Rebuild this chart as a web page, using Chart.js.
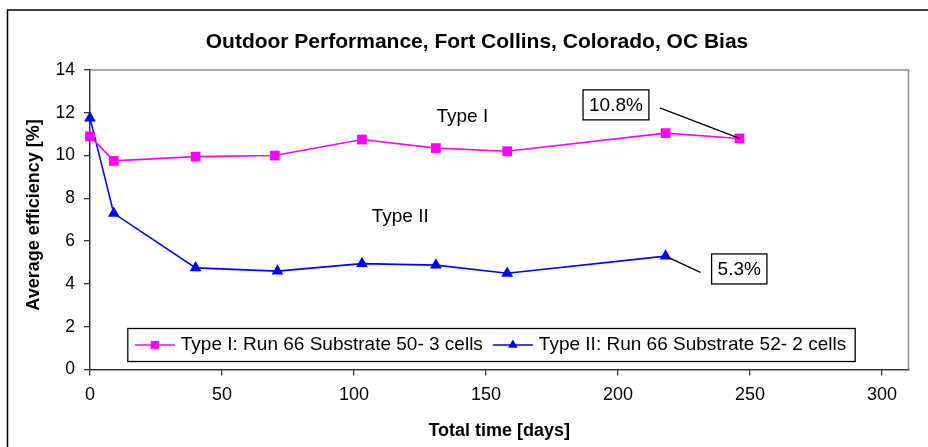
<!DOCTYPE html>
<html>
<head>
<meta charset="utf-8">
<script src="https://cdn.jsdelivr.net/npm/chart.js@4.4.0/dist/chart.umd.min.js"></script>
<style>
  html, body { margin: 0; padding: 0; background: #ffffff; }
  #wrap { width: 928px; height: 447px; position: relative; }
</style>
</head>
<body>
<div id="wrap"><canvas id="c" width="928" height="447"></canvas></div>
<script>
// Outdoor efficiency over time, two cell types
const typeIDays   = [0, 9, 40, 70, 103, 131, 158, 218, 246];
const typeIEff    = [10.9, 9.75, 9.95, 10.0, 10.75, 10.35, 10.2, 11.05, 10.8];
const typeIIDays  = [0, 9, 40, 71, 103, 131, 158, 218];
const typeIIEff   = [11.75, 7.3, 4.75, 4.6, 4.95, 4.88, 4.5, 5.3];

const seriesNames = ['Type I: Run 66 Substrate 50- 3 cells', 'Type II: Run 66 Substrate 52- 2 cells'];
const chartTitle  = 'Outdoor Performance, Fort Collins, Colorado, OC Bias';
const xTitle      = 'Total time [days]';
const yTitle      = 'Average efficiency [%]';
const xRange      = [0, 310];
const xStep       = 50;
const yRange      = [0, 14];
const yStep       = 2;

// Free text labels placed in data units
const typeLabels = [
  { text: 'Type I',  day: 141, eff: 11.8 },
  { text: 'Type II', day: 117.5, eff: 7.15 }
];

const FONT = '"Liberation Sans", Arial, Helvetica, sans-serif';
const MAGENTA = '#ff00ff';
const BLUE = '#0000ff';

const toPoints = (xs, ys) => xs.map((x, i) => ({ x: x, y: ys[i] }));

// Callouts for the final value of each series
const lastI  = typeIEff.length - 1;
const lastII = typeIIEff.length - 1;
const callouts = [
  { text: typeIEff[lastI].toFixed(1) + '%',
    box: { day: 199.2, eff: 12.37 },
    from: { day: 215.8, eff: 12.23 },
    to: { day: typeIDays[lastI], eff: typeIEff[lastI] } },
  { text: typeIIEff[lastII].toFixed(1) + '%',
    box: { day: 245.9, eff: 4.70 },
    from: { day: typeIIDays[lastII], eff: typeIIEff[lastII] },
    to: { day: 231.2, eff: 4.54 } }
];

function drawMarker(ctx, style, x, y, r, color) {
  ctx.save();
  ctx.fillStyle = color;
  ctx.beginPath();
  if (style === 'rect') {
    const s = r * Math.SQRT1_2;
    ctx.rect(x - s, y - s, 2 * s, 2 * s);
  } else {
    ctx.moveTo(x, y - r);
    ctx.lineTo(x + r * Math.sin(2 * Math.PI / 3), y + r * 0.5);
    ctx.lineTo(x - r * Math.sin(2 * Math.PI / 3), y + r * 0.5);
    ctx.closePath();
  }
  ctx.fill();
  ctx.restore();
}

const decorations = {
  id: 'decorations',
  beforeDraw(chart) {
    const ctx = chart.ctx;
    ctx.save();
    ctx.fillStyle = '#ffffff';
    ctx.fillRect(0, 0, chart.width, chart.height);
    ctx.restore();
  },
  afterDatasetsDraw(chart) {
    const ctx = chart.ctx;
    const xs = chart.scales.x, ys = chart.scales.y;
    const a = chart.chartArea;

    ctx.save();
    // outer frame
    ctx.strokeStyle = '#000000';
    ctx.lineWidth = 1.5;
    ctx.strokeRect(7.5, 10, 1200, 1200);

    // plot frame, top and right
    ctx.strokeStyle = '#8c8c8c';
    ctx.lineWidth = 1.5;
    ctx.beginPath();
    ctx.moveTo(a.left, a.top);
    ctx.lineTo(a.right, a.top);
    ctx.lineTo(a.right, a.bottom);
    ctx.stroke();

    // title
    ctx.fillStyle = '#000000';
    ctx.textAlign = 'center';
    ctx.textBaseline = 'middle';
    ctx.font = 'bold 21px ' + FONT;
    ctx.fillText(chartTitle, 477, 42.5);

    // axis titles
    ctx.font = 'bold 18px ' + FONT;
    ctx.fillText(xTitle, (a.left + a.right) / 2, 431);
    ctx.save();
    ctx.translate(34, 215);
    ctx.rotate(-Math.PI / 2);
    ctx.fillText(yTitle, 0, 0);
    ctx.restore();

    // type labels
    ctx.font = '19px ' + FONT;
    typeLabels.forEach(l => {
      ctx.fillText(l.text, xs.getPixelForValue(l.day), ys.getPixelForValue(l.eff));
    });

    // callouts with leader lines
    callouts.forEach(c => {
      ctx.strokeStyle = '#000000';
      ctx.lineWidth = 1.3;
      ctx.beginPath();
      ctx.moveTo(xs.getPixelForValue(c.from.day), ys.getPixelForValue(c.from.eff));
      ctx.lineTo(xs.getPixelForValue(c.to.day), ys.getPixelForValue(c.to.eff));
      ctx.stroke();
      ctx.font = '19px ' + FONT;
      const w = ctx.measureText(c.text).width + 12;
      const h = 30;
      const cx = xs.getPixelForValue(c.box.day), cy = ys.getPixelForValue(c.box.eff);
      ctx.fillStyle = '#ffffff';
      ctx.fillRect(cx - w / 2, cy - h / 2, w, h);
      ctx.strokeStyle = '#000000';
      ctx.lineWidth = 1.3;
      ctx.strokeRect(cx - w / 2, cy - h / 2, w, h);
      ctx.fillStyle = '#000000';
      ctx.fillText(c.text, cx, cy + 1);
    });

    // legend
    const ds = chart.data.datasets;
    ctx.font = '19px ' + FONT;
    const lineLen = 40, gapText = 6, gapItem = 10, padL = 7, padR = 9;
    let width = padL;
    ds.forEach((d, i) => {
      width += lineLen + gapText + ctx.measureText(d.label).width;
      if (i < ds.length - 1) width += gapItem;
    });
    width += padR;
    const lcx = 491.5, ltop = 328.5, lh = 33;
    const left = lcx - width / 2;
    ctx.fillStyle = '#ffffff';
    ctx.fillRect(left, ltop, width, lh);
    ctx.strokeStyle = '#000000';
    ctx.lineWidth = 1.3;
    ctx.strokeRect(left, ltop, width, lh);
    const my = ltop + lh / 2;
    let x = left + padL;
    ds.forEach((d, i) => {
      ctx.strokeStyle = d.borderColor;
      ctx.lineWidth = 1.5;
      ctx.beginPath();
      ctx.moveTo(x, my);
      ctx.lineTo(x + lineLen, my);
      ctx.stroke();
      drawMarker(ctx, d.pointStyle, x + lineLen / 2, my, d.pointStyle === 'rect' ? 5.8 : 5.6, d.borderColor);
      x += lineLen + gapText;
      ctx.fillStyle = '#000000';
      ctx.textAlign = 'left';
      ctx.fillText(d.label, x, my);
      x += ctx.measureText(d.label).width + gapItem;
    });
    ctx.restore();
  }
};

new Chart(document.getElementById('c'), {
  type: 'line',
  data: {
    datasets: [
      {
        label: seriesNames[0],
        data: toPoints(typeIDays, typeIEff),
        borderColor: MAGENTA,
        backgroundColor: MAGENTA,
        borderWidth: 1.6,
        pointStyle: 'rect',
        pointRadius: 6.9,
        pointBorderWidth: 0,
        tension: 0,
        fill: false,
        clip: false
      },
      {
        label: seriesNames[1],
        data: toPoints(typeIIDays, typeIIEff),
        borderColor: BLUE,
        backgroundColor: BLUE,
        borderWidth: 1.6,
        pointStyle: 'triangle',
        pointRadius: 6.8,
        pointBorderWidth: 0,
        tension: 0,
        fill: false,
        clip: false
      }
    ]
  },
  options: {
    responsive: false,
    animation: false,
    devicePixelRatio: 1,
    layout: { padding: { left: 0, right: 19.5, top: 70, bottom: 0 } },
    plugins: {
      legend: { display: false },
      title: { display: false },
      tooltip: { enabled: false }
    },
    scales: {
      x: {
        type: 'linear',
        min: xRange[0],
        max: xRange[1],
        ticks: {
          stepSize: xStep,
          includeBounds: false,
          color: '#000000',
          font: { family: FONT, size: 18 },
          padding: 9,
          maxRotation: 0
        },
        grid: { drawOnChartArea: false, drawTicks: true, tickLength: 6, color: '#333333', lineWidth: 1.3 },
        border: { display: true, color: '#333333', width: 1.5 },
        afterFit(scale) { scale.height = 77.5; }
      },
      y: {
        min: yRange[0],
        max: yRange[1],
        ticks: {
          stepSize: yStep,
          color: '#000000',
          font: { family: FONT, size: 17.5 },
          padding: 9
        },
        grid: { drawOnChartArea: false, drawTicks: true, tickLength: 6, color: '#333333', lineWidth: 1.3 },
        border: { display: true, color: '#333333', width: 1.5 },
        afterFit(scale) { scale.width = 90; }
      }
    }
  },
  plugins: [decorations]
});
</script>
</body>
</html>
